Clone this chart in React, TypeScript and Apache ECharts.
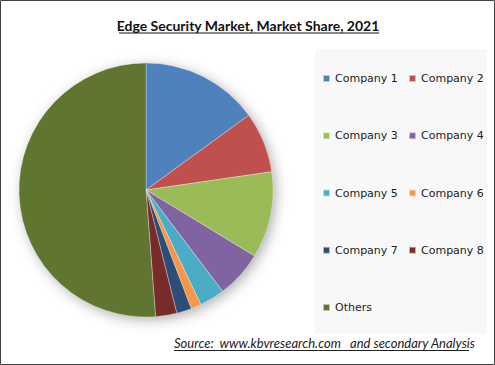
import React, { useEffect, useRef } from "react";
import * as echarts from "echarts";

const companies = ["Company 1", "Company 2", "Company 3", "Company 4", "Company 5", "Company 6", "Company 7", "Company 8", "Others"];
const shares = [15.0, 7.7, 11.0, 6.0, 3.2, 1.3, 1.9, 2.7, 51.2];
const colors = ["#4F81BD", "#C0504D", "#9BBB59", "#8064A2", "#4BACC6", "#F79646", "#2C4D75", "#772C2A", "#5F7530"];
const legendCol1 = ["Company 1", "Company 3", "Company 5", "Company 7", "Others"];
const legendCol2 = ["Company 2", "Company 4", "Company 6", "Company 8"];
const titleText = "Edge Security Market, Market Share, 2021";
const sourceText = "Source:  www.kbvresearch.com   and secondary Analysis";

export default function App() {
  const ref = useRef<HTMLDivElement>(null);
  useEffect(() => {
    document.body.style.margin = "0";
    const chart = echarts.init(ref.current!, null, { renderer: "svg" });
    const legendText = { fontFamily: "DejaVu Sans", fontSize: 11, color: "#222" };
    chart.setOption({
      animation: false,
      backgroundColor: "#fff",
      color: colors,
      graphic: [
        { type: "rect", z: -10, shape: { x: 0.5, y: 0.5, width: 494, height: 364 }, style: { fill: "#fff", stroke: "#444", lineWidth: 1 } },
        { type: "rect", z: -5, shape: { x: 315, y: 49, width: 172, height: 285 }, style: { fill: "#f8f8f8" } },
        { type: "circle", z: -1, shape: { cx: 146, cy: 190, r: 126 }, style: { fill: "#fff", shadowBlur: 14, shadowColor: "rgba(0,0,0,0.35)", shadowOffsetX: 3, shadowOffsetY: 3 } },
        { type: "text", x: 248, y: 25, style: { text: titleText, font: "bold 14px Lato", fill: "#111", align: "center", verticalAlign: "middle" } },
        { type: "line", shape: { x1: 119, y1: 33, x2: 379, y2: 33 }, style: { stroke: "#111", lineWidth: 1 } },
        { type: "text", x: 174, y: 343, style: { text: sourceText, font: "italic 13px Lato", fill: "#222", align: "left", verticalAlign: "middle" } },
        { type: "line", shape: { x1: 174, y1: 350.5, x2: 469, y2: 350.5 }, style: { stroke: "#222", lineWidth: 1 } },
      ],
      legend: [
        {
          data: legendCol1, orient: "vertical", left: 322, top: 73, padding: 0, itemWidth: 7, itemHeight: 7, itemGap: 46.25,
          icon: "rect", textStyle: legendText, selectedMode: false,
        },
        {
          data: legendCol2, orient: "vertical", left: 408, top: 73, padding: 0, itemWidth: 7, itemHeight: 7, itemGap: 46.25,
          icon: "rect", textStyle: legendText, selectedMode: false,
        },
      ],
      series: [
        {
          type: "pie",
          center: [146, 190],
          radius: 127,
          startAngle: 90,
          clockwise: true,
          label: { show: false },
          labelLine: { show: false },
          emphasis: { disabled: true },
          itemStyle: { borderColor: "rgba(255,255,255,0.6)", borderWidth: 0.5 },
          data: companies.map((c, i) => ({ name: c, value: shares[i] })),
        },
      ],
    });
    return () => chart.dispose();
  }, []);
  return <div ref={ref} style={{ width: 495, height: 365 }} />;
}
